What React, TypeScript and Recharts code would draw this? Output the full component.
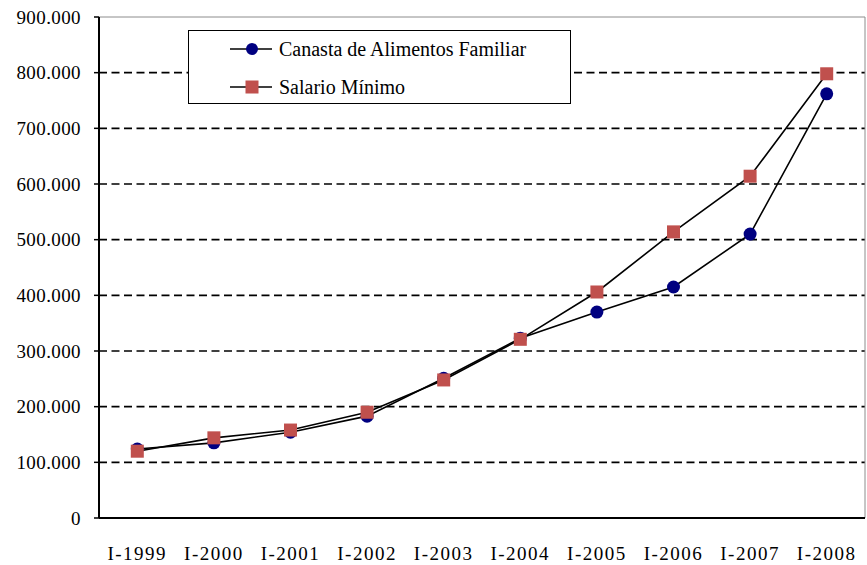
import React from 'react';
import { LineChart, Line, XAxis, YAxis, ReferenceLine, Legend } from 'recharts';

const years = ['I-1999', 'I-2000', 'I-2001', 'I-2002', 'I-2003', 'I-2004', 'I-2005', 'I-2006', 'I-2007', 'I-2008'];
const canasta = [124000, 135000, 154000, 183000, 251000, 323000, 370000, 415000, 510000, 762000];
const salario = [120000, 144000, 158000, 190000, 248000, 321000, 406000, 514000, 614000, 798000];
const yTicks = [0, 100000, 200000, 300000, 400000, 500000, 600000, 700000, 800000, 900000];
const gridValues = [100000, 200000, 300000, 400000, 500000, 600000, 700000, 800000];

const FONT = '"Liberation Serif", "DejaVu Serif", serif';
const NAVY = '#000080';
const RED = '#C0504D';

const data = years.map((y, i) => ({ x: i, label: y, canasta: canasta[i], salario: salario[i] }));
const boundaryTicks = years.map((_, i) => i - 0.5).concat([years.length - 0.5]);
const labelTicks = years.map((_, i) => i);

const fmt = (v: number) => (v === 0 ? '0' : `${v / 1000}.000`);

function Square(props: any) {
  const { cx, cy } = props;
  if (cx == null || cy == null) return null;
  return <rect x={cx - 6.5} y={cy - 6.5} width={13} height={13} fill={RED} />;
}

function LegendBox() {
  const rows = [
    { name: 'Canasta de Alimentos Familiar', kind: 'circle' },
    { name: 'Salario Mínimo', kind: 'square' },
  ];
  return (
    <div
      style={{
        width: 383,
        height: 74,
        border: '1.5px solid #000',
        background: '#fff',
        boxSizing: 'border-box',
        fontFamily: FONT,
        fontSize: 20,
        paddingTop: 2,
      }}
    >
      {rows.map((r) => (
        <div key={r.name} style={{ display: 'flex', alignItems: 'center', height: 32, marginTop: r.kind === 'square' ? 6 : 0 }}>
          <svg width={42} height={16} style={{ marginLeft: 41 }}>
            <line x1={0} y1={8} x2={42} y2={8} stroke="#000" strokeWidth={1.5} />
            {r.kind === 'circle' ? (
              <circle cx={22} cy={8} r={6} fill={NAVY} />
            ) : (
              <rect x={15.5} y={1.5} width={13} height={13} fill={RED} />
            )}
          </svg>
          <span style={{ marginLeft: 7, whiteSpace: 'nowrap' }}>{r.name}</span>
        </div>
      ))}
    </div>
  );
}

export default function App() {
  return (
    <div style={{ position: 'absolute', left: 0, top: 0, width: 867, height: 565, background: '#fff', fontFamily: FONT }}>
      <LineChart width={867} height={565} data={data} margin={{ top: 17, right: 2, left: 0, bottom: 0 }}>
        <XAxis
          xAxisId="a_ticks"
          type="number"
          dataKey="x"
          domain={[-0.5, 9.5]}
          ticks={boundaryTicks}
          tick={false}
          tickSize={7}
          height={8}
          axisLine={{ stroke: '#000', strokeWidth: 2 }}
          tickLine={{ stroke: '#000', strokeWidth: 1.5 }}
        />
        <XAxis
          xAxisId="b_labels"
          type="number"
          dataKey="x"
          domain={[-0.5, 9.5]}
          ticks={labelTicks}
          tickFormatter={(v: number) => years[v]}
          axisLine={false}
          tickLine={false}
          tickSize={0}
          tickMargin={21}
          height={39}
          interval={0}
          tick={{ fill: '#000', fontSize: 19, fontFamily: FONT, letterSpacing: 1.5 }}
        />
        <YAxis
          domain={[0, 900000]}
          ticks={yTicks}
          tickFormatter={fmt}
          width={99}
          tickSize={5}
          tickMargin={13}
          interval={0}
          axisLine={{ stroke: '#000', strokeWidth: 2 }}
          tickLine={{ stroke: '#000', strokeWidth: 1.5 }}
          tick={{ fill: '#000', fontSize: 19, fontFamily: FONT, letterSpacing: 0.4 }}
        />
        {gridValues.map((v) => (
          <ReferenceLine key={v} xAxisId="a_ticks" y={v} stroke="#000" strokeWidth={1.6} strokeDasharray="8 4.5" />
        ))}
        <ReferenceLine xAxisId="a_ticks" y={900000} stroke="#8c8c8c" strokeWidth={1} />
        <ReferenceLine xAxisId="a_ticks" x={9.5} stroke="#8c8c8c" strokeWidth={1} />
        <Legend
          layout="vertical"
          align="center"
          verticalAlign="middle"
          wrapperStyle={{ left: 188, top: 30, width: 383 }}
          content={() => <LegendBox />}
        />
        <Line
          xAxisId="a_ticks"
          dataKey="canasta"
          stroke="#000"
          strokeWidth={1.6}
          isAnimationActive={false}
          dot={{ r: 6.5, fill: NAVY, stroke: 'none' }}
          activeDot={false}
        />
        <Line
          xAxisId="a_ticks"
          dataKey="salario"
          stroke="#000"
          strokeWidth={1.6}
          isAnimationActive={false}
          dot={<Square />}
          activeDot={false}
        />
      </LineChart>
    </div>
  );
}
